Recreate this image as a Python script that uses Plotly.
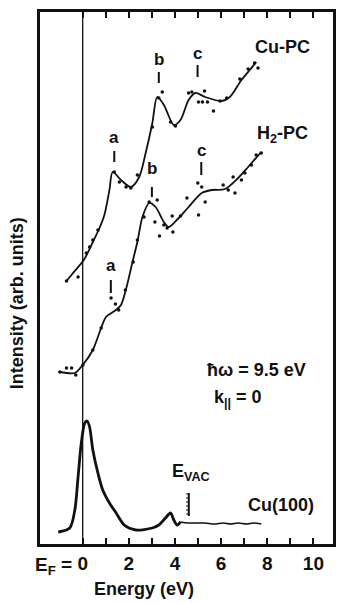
import plotly.graph_objects as go

# ---------------- data (energy in eV, intensity in arb. units) ----------------
cupc_line_E = [-0.70, -0.42, 0.05, 0.44, 0.73, 0.94, 1.16, 1.30, 1.66, 2.09, 2.45, 2.73, 3.02, 3.23, 3.52, 3.95, 4.24, 4.59, 4.88, 5.31, 6.02, 6.38, 6.88, 7.24, 7.52]
cupc_line_I = [263, 271, 284, 302, 316, 329, 354, 372, 364, 357, 367, 391, 421, 447, 439, 419, 424, 444, 451, 447, 443, 447, 464, 474, 482]
cupc_pts_E = [-0.70, -0.20, 0.16, 0.30, 0.44, 0.66, 1.37, 1.59, 1.88, 2.09, 2.37, 3.02, 3.30, 3.45, 3.81, 4.02, 4.59, 4.73, 5.02, 5.19, 5.28, 5.41, 5.67, 5.95, 6.24, 6.81, 7.17, 7.45, 7.60]
cupc_pts_I = [263, 267, 291, 297, 304, 314, 372, 362, 357, 356, 369, 417, 446, 452, 422, 418, 451, 452, 442, 442, 453, 442, 433, 443, 446, 465, 475, 481, 476]

h2pc_line_E = [-0.99, -0.34, 0.00, 0.44, 0.80, 1.01, 1.44, 1.66, 1.87, 2.16, 2.37, 2.59, 2.88, 3.16, 3.52, 3.73, 4.16, 4.59, 5.16, 5.59, 6.17, 6.74, 7.17, 7.74]
h2pc_line_I = [172, 171, 179, 194, 216, 227, 234, 239, 254, 282, 302, 327, 341, 337, 322, 317, 326, 337, 351, 354, 355, 366, 377, 392]
h2pc_pts_E = [-0.99, -0.70, -0.48, -0.30, 0.01, 0.44, 0.80, 1.23, 1.42, 1.56, 1.85, 2.19, 2.37, 2.66, 2.88, 3.23, 3.13, 3.33, 3.52, 3.66, 3.91, 3.88, 4.24, 4.52, 4.99, 5.16, 5.31, 5.02, 6.09, 6.31, 6.60, 6.52, 6.88, 7.03, 7.31, 7.52, 7.74]
h2pc_pts_I = [172, 176, 176, 169, 179, 194, 216, 246, 240, 234, 254, 282, 304, 327, 342, 344, 322, 308, 319, 316, 312, 328, 328, 346, 361, 357, 342, 329, 359, 354, 351, 367, 364, 371, 379, 389, 391]

cu100_E = [-1.06, -0.56, -0.34, -0.20, -0.06, 0.09, 0.19, 0.30, 0.44, 0.66, 0.87, 1.16, 1.45, 1.80, 2.30, 3.02, 3.30, 3.59, 3.81, 3.95, 4.09, 4.24]
cu100_I = [12, 16, 34, 67, 101, 121, 123, 117, 94, 71, 54, 41, 31, 19, 14, 16, 19, 26, 31, 24, 19, 22]
cu100_tail_E = [4.24, 4.6, 5.0, 5.31, 5.7, 6.1, 6.4, 6.74, 7.1, 7.4, 7.74]
cu100_tail_I = [22, 21, 21, 21, 20, 21, 20, 21, 20, 21, 20]

E_VAC = 4.6

x_tickvals = [0, 1, 2, 3, 4, 5, 6, 7, 8, 9, 10]
x_ticktext = ["0", "", "2", "", "4", "", "6", "", "8", "", "10"]

# peak labels: (label, energy, text height, tick bottom, tick top)
cupc_peaks = [("a", 1.37, 407, 382, 393), ("b", 3.30, 485, 461, 472), ("c", 4.98, 491, 467, 479)]
h2pc_peaks = [("a", 1.22, 279, 251, 264), ("b", 3.00, 376, 347, 357), ("c", 5.14, 394, 369, 382)]

FONT = "Liberation Sans"
BLACK = "#111111"
W, H = 342, 603
L, R, T, B = 40, 6, 12, 59

fig = go.Figure()

def add_curve(E, I, width):
    fig.add_trace(go.Scatter(x=E, y=I, mode="lines", line=dict(color=BLACK, width=width, shape="spline", smoothing=0.8),
                             showlegend=False, hoverinfo="skip"))

def add_pts(E, I):
    fig.add_trace(go.Scatter(x=E, y=I, mode="markers", marker=dict(color=BLACK, size=3.5),
                             showlegend=False, hoverinfo="skip"))

add_curve(cupc_line_E, cupc_line_I, 1.8)
add_pts(cupc_pts_E, cupc_pts_I)
add_curve(h2pc_line_E, h2pc_line_I, 1.8)
add_pts(h2pc_pts_E, h2pc_pts_I)
add_curve(cu100_E, cu100_I, 2.8)
add_curve(cu100_tail_E, cu100_tail_I, 1.6)

shapes = []
annotations = []

# Fermi level line
shapes.append(dict(type="line", xref="x", yref="paper", x0=0, x1=0, y0=0, y1=1,
                   line=dict(color=BLACK, width=1.3)))

for peaks in (cupc_peaks, h2pc_peaks):
    for lab, e, ty, t0, t1 in peaks:
        annotations.append(dict(x=e, y=ty, xref="x", yref="y", text=lab, showarrow=False,
                                xanchor="center", yanchor="middle",
                                font=dict(family=FONT, size=17, color=BLACK, weight="bold")))
        shapes.append(dict(type="line", xref="x", yref="y", x0=e, x1=e, y0=t0, y1=t1,
                           line=dict(color=BLACK, width=2)))

# E_VAC marker (comb)
shapes.append(dict(type="line", xref="x", yref="y", x0=E_VAC, x1=E_VAC, y0=28, y1=51,
                   line=dict(color=BLACK, width=2)))
for k in range(6):
    yy = 30 + k * 4
    shapes.append(dict(type="line", xref="x", yref="y", x0=E_VAC - 0.12, x1=E_VAC, y0=yy, y1=yy,
                       line=dict(color=BLACK, width=1)))

txt = dict(family=FONT, size=18, color=BLACK, weight="bold")

def pix(px, py):
    """figure pixel (from top-left) -> plot-area paper fraction"""
    return (px - L) / (W - L - R), ((H - py) - B) / (H - T - B)

ex, ey = pix(145, 589)
ix, iy = pix(17, 303)
fx, fy = pix(74, 566)

annotations += [
    dict(x=8.67, y=497, xref="x", yref="y", text="Cu-PC", showarrow=False, font=txt),
    dict(x=8.67, y=410, xref="x", yref="y", text="H<sub>2</sub>-PC", showarrow=False, font=txt),
    dict(x=8.58, y=39, xref="x", yref="y", text="Cu(100)", showarrow=False, font=txt),
    dict(x=3.80, y=72, xref="x", yref="y", text="E<sub>VAC</sub>", showarrow=False, xanchor="left",
         yanchor="middle", font=txt),
    dict(x=5.3, y=174, xref="x", yref="y", text="ħω = 9.5 eV", showarrow=False, xanchor="left",
         yanchor="middle", font=txt),
    dict(x=5.6, y=146, xref="x", yref="y", text="k<sub>||</sub> = 0", showarrow=False, xanchor="left",
         yanchor="middle", font=txt),
    dict(x=ex, y=ey, xref="paper", yref="paper", text="Energy (eV)", showarrow=False,
         xanchor="center", yanchor="middle", font=txt),
    dict(x=ix, y=iy, xref="paper", yref="paper", text="Intensity (arb. units)", showarrow=False,
         xanchor="center", yanchor="middle", textangle=-90, font=txt),
    dict(x=fx, y=fy, xref="paper", yref="paper", text="E<sub>F</sub> =", showarrow=False,
         xanchor="right", yanchor="middle", font=dict(family=FONT, size=19, color=BLACK, weight="bold")),
]

fig.update_layout(
    width=W, height=H,
    margin=dict(l=L, r=R, t=T, b=B),
    paper_bgcolor="white", plot_bgcolor="white",
    shapes=shapes, annotations=annotations,
    xaxis=dict(range=[-1.85, 10.85], tickmode="array", tickvals=x_tickvals, ticktext=x_ticktext,
               ticks="inside", ticklen=6, tickwidth=2, tickcolor=BLACK,
               showline=True, linewidth=2.5, linecolor=BLACK, mirror="ticks",
               showgrid=False, zeroline=False,
               tickfont=dict(family=FONT, size=19, color=BLACK, weight="bold")),
    yaxis=dict(range=[0, 532], showticklabels=False, ticks="", showline=True, linewidth=2.5,
               linecolor=BLACK, mirror=True, showgrid=False, zeroline=False),
)

fig.write_html("out.html", config={"displayModeBar": False},
               post_script="document.body.style.margin='0';document.body.style.overflow='hidden';")
